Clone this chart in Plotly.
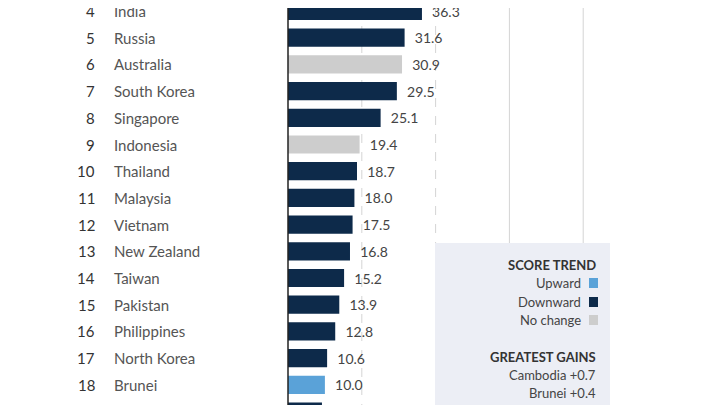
import plotly.graph_objects as go

ranks = [4, 5, 6, 7, 8, 9, 10, 11, 12, 13, 14, 15, 16, 17, 18, 19]
countries = ['India', 'Russia', 'Australia', 'South Korea', 'Singapore', 'Indonesia',
             'Thailand', 'Malaysia', 'Vietnam', 'New Zealand', 'Taiwan', 'Pakistan',
             'Philippines', 'North Korea', 'Brunei', '']
scores = [36.3, 31.6, 30.9, 29.5, 25.1, 19.4, 18.7, 18.0, 17.5, 16.8, 15.2, 13.9,
          12.8, 10.6, 10.0, 9.2]
trend = ['down', 'down', 'same', 'down', 'down', 'same', 'down', 'down', 'down',
         'down', 'down', 'down', 'down', 'down', 'up', 'down']

NAVY, BLUE, GREY = '#0d2a4a', '#5aa2d8', '#cdcdcd'
cmap = {'down': NAVY, 'up': BLUE, 'same': GREY}
FONT = 'Lato'
OFF = 8  # page margin around the figure


def px(x):
    return (x - OFF) / 720


def py(y):
    return 1 - (y - OFF) / 405


fig = go.Figure()
fig.add_bar(x=scores, y=ranks, orientation='h', width=0.68,
            marker_color=[cmap[t] for t in trend], marker_line_width=0,
            text=[f'  {s:.1f}' for s in scores], textposition='outside',
            textfont=dict(size=14, color='#444', family=FONT), cliponaxis=True)

# gridlines
for gx, dash in [(20, 'dash'), (40, 'dash'), (60, 'solid'), (80, 'solid')]:
    fig.add_shape(type='line', x0=gx, x1=gx, y0=0, y1=1, yref='paper',
                  line=dict(color='#d4d4d4', width=1, dash=dash), layer='below')
fig.add_shape(type='line', x0=0, x1=0, y0=0, y1=1, yref='paper',
              line=dict(color='#222', width=1.5))

for r, c in zip(ranks, countries):
    if not c:
        continue
    fig.add_annotation(x=px(97), xref='paper', y=r, text=str(r), showarrow=False,
                       xanchor='right', font=dict(size=15, color='#333', family=FONT))
    fig.add_annotation(x=px(112), xref='paper', y=r, text=c, showarrow=False,
                       xanchor='left', font=dict(size=15, color='#555', family=FONT))

# legend box
fig.add_shape(type='rect', xref='paper', yref='paper', x0=px(435), x1=px(610),
              y0=0, y1=py(243), fillcolor='#eceef5', line_width=0)
items = [('<b>SCORE TREND</b>', 265, None, '#333'), ('Upward', 283, BLUE, '#444'),
         ('Downward', 302, NAVY, '#444'), ('No change', 320, GREY, '#444'),
         ('<b>GREATEST GAINS</b>', 357, None, '#333'), ('Cambodia +0.7', 375, None, '#444'),
         ('Brunei +0.4', 393, None, '#444')]
for txt, ty, col, fc in items:
    xr = 598 if col is None else 583
    fig.add_annotation(x=px(xr), y=py(ty), xref='paper', yref='paper', text=txt,
                       showarrow=False, xanchor='right', yanchor='middle',
                       font=dict(size=13, color=fc, family=FONT))
    if col:
        fig.add_shape(type='rect', xref='paper', yref='paper', x0=px(589), x1=px(598),
                      y0=py(ty + 5), y1=py(ty - 5), fillcolor=col, line_width=0)

fig.update_layout(width=720, height=405, margin=dict(l=0, r=0, t=0, b=0),
                  plot_bgcolor='white', paper_bgcolor='white', showlegend=False,
                  xaxis=dict(range=[-(288 - OFF) / 3.69, (720 - 288 + OFF) / 3.69],
                             visible=False),
                  yaxis=dict(range=[4 - (11 - OFF) / 26.7 + 405 / 26.7,
                                    4 - (11 - OFF) / 26.7], visible=False))
fig.write_html('out.html')
